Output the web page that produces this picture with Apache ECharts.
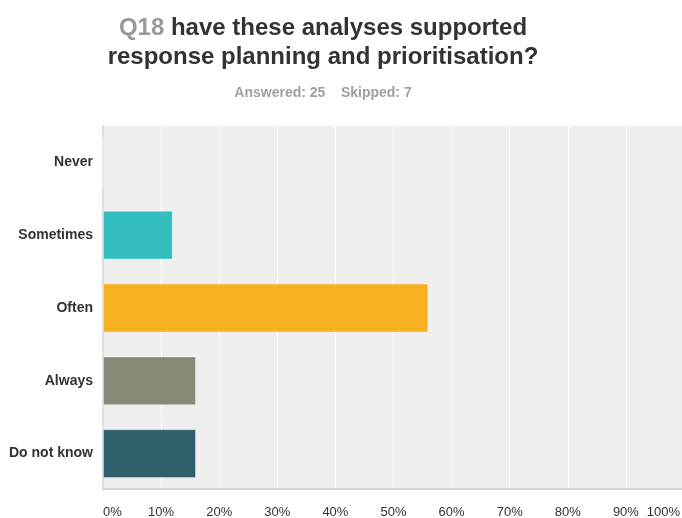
<!DOCTYPE html>
<html>
<head>
<meta charset="utf-8">
<script src="https://cdn.jsdelivr.net/npm/echarts@6/dist/echarts.min.js"></script>
<style>
  html, body { margin: 0; padding: 0; background: #ffffff; }
  #chart { width: 682px; height: 518px; }
</style>
</head>
<body>
<div id="chart"></div>
<script>
// Survey question Q18: share of respondents per answer choice
const questionId = 'Q18';
const questionText = ['have these analyses supported', 'response planning and prioritisation?'];
const answeredCount = 25;
const skippedCount = 7;

const categories = ['Never', 'Sometimes', 'Often', 'Always', 'Do not know'];
const percentages = [0, 12, 56, 16, 16];
const barColors = ['#34bec0', '#34bec0', '#f7b01f', '#888a78', '#2f5f6b'];
const tickValues = [0, 10, 20, 30, 40, 50, 60, 70, 80, 90, 100];
const tickLabels = ['0%', '10%', '20%', '30%', '40%', '50%', '60%', '70%', '80%', '90%', '100%'];

const chart = echarts.init(document.getElementById('chart'), null, { renderer: 'canvas' });

const labelFont = '"Liberation Sans", Arial, Helvetica, sans-serif';
const headerCenterX = 323;

chart.setOption({
  animation: false,
  backgroundColor: '#ffffff',
  graphic: [
    {
      type: 'text',
      x: headerCenterX,
      y: 14,
      silent: true,
      style: {
        text: '{q|' + questionId + '} ' + questionText[0] + '\n' + questionText[1],
        align: 'center',
        verticalAlign: 'top',
        fill: '#333333',
        font: 'bold 24px ' + labelFont,
        lineHeight: 29,
        rich: {
          q: { fill: '#9a9a9a', font: 'bold 24px ' + labelFont, lineHeight: 29 }
        }
      }
    },
    {
      type: 'text',
      x: headerCenterX,
      y: 86,
      silent: true,
      style: {
        text: 'Answered: ' + answeredCount + '    Skipped: ' + skippedCount,
        align: 'center',
        verticalAlign: 'top',
        fill: '#a0a0a0',
        font: 'bold 14px ' + labelFont
      }
    }
  ],
  grid: {
    left: 103,
    right: -2,
    top: 126,
    bottom: 28,
    outerBoundsMode: 'none',
    containLabel: false,
    show: true,
    backgroundColor: '#efefef',
    borderWidth: 0
  },
  xAxis: {
    type: 'value',
    min: 0,
    max: 100,
    interval: 10,
    axisLine: { show: false },
    axisTick: { show: false },
    splitLine: { show: true, lineStyle: { color: '#ffffff', width: 1 } },
    axisLabel: {
      margin: 16,
      color: '#333333',
      fontFamily: labelFont,
      fontSize: 13,
      alignMinLabel: 'left',
      alignMaxLabel: 'right',
      formatter: function (v) {
        const i = tickValues.indexOf(Math.round(v));
        if (i < 0) return '';
        return i === tickValues.length - 1 ? '{last|' + tickLabels[i] + '}' : tickLabels[i];
      },
      rich: {
        last: { padding: [0, 4, 0, 0], fontSize: 13, color: '#333333', fontFamily: labelFont }
      }
    }
  },
  yAxis: {
    type: 'category',
    data: categories,
    inverse: true,
    axisLine: { show: true, lineStyle: { color: '#d4d4d4', width: 1.5 } },
    axisTick: { show: false },
    splitLine: { show: false },
    axisLabel: {
      margin: 10,
      color: '#333333',
      fontFamily: labelFont,
      fontSize: 14,
      fontWeight: 'bold'
    }
  },
  series: [
    {
      type: 'bar',
      data: percentages.map(function (v, i) {
        return { value: v, itemStyle: { color: barColors[i] } };
      }),
      barCategoryGap: '33%',
      itemStyle: {
        borderColor: 'rgba(255,255,255,0.35)',
        borderWidth: 1
      },
      silent: true
    },
    {
      // baseline rule along the bottom of the plot
      type: 'line',
      data: [],
      markLine: {
        silent: true,
        symbol: 'none',
        label: { show: false },
        lineStyle: { color: '#d4d4d4', width: 2, type: 'solid' },
        data: [[{ coord: [0, 4], y: 489 }, { coord: [100, 4], y: 489 }]]
      }
    }
  ]
});
</script>
</body>
</html>
